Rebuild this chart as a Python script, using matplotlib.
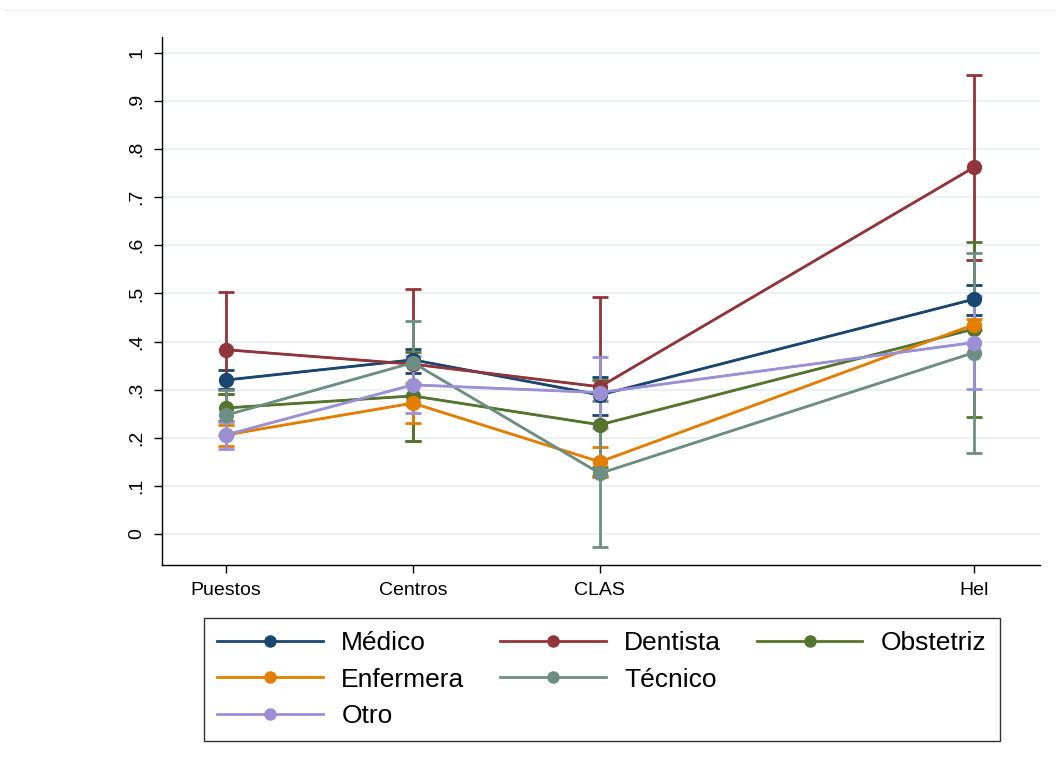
import matplotlib
matplotlib.use('Agg')
import matplotlib.pyplot as plt
from matplotlib.lines import Line2D

plt.rcParams['font.family'] = ['Liberation Sans', 'DejaVu Sans']

# categorias del eje x (Hel va separado, en la posicion 5)
categorias = ['Puestos', 'Centros', 'CLAS', 'Hel']
posiciones = [1, 2, 3, 5]

grupos = ['Médico', 'Dentista', 'Obstetriz', 'Enfermera', 'Técnico', 'Otro']
colores = ['#1a476f', '#90353b', '#55752f', '#e37e00', '#6e8e84', '#9b8fd6']

# proporciones estimadas y sus intervalos de confianza
medico = [0.320, 0.362, 0.289, 0.488]
medico_lo = [0.301, 0.334, 0.247, 0.455]
medico_hi = [0.341, 0.385, 0.327, 0.517]

dentista = [0.383, 0.353, 0.306, 0.762]
dentista_lo = [0.290, 0.194, 0.120, 0.570]
dentista_hi = [0.504, 0.509, 0.492, 0.954]

obstetriz = [0.262, 0.287, 0.227, 0.426]
obstetriz_lo = [0.235, 0.194, 0.140, 0.243]
obstetriz_hi = [0.290, 0.379, 0.320, 0.606]

enfermera = [0.206, 0.272, 0.150, 0.435]
enfermera_lo = [0.182, 0.231, 0.118, 0.425]
enfermera_hi = [0.227, 0.313, 0.180, 0.446]

tecnico = [0.247, 0.356, 0.126, 0.377]
tecnico_lo = [0.205, 0.269, -0.026, 0.168]
tecnico_hi = [0.299, 0.443, 0.277, 0.584]

otro = [0.206, 0.310, 0.294, 0.398]
otro_lo = [0.177, 0.251, 0.220, 0.301]
otro_hi = [0.233, 0.369, 0.367, 0.495]

valores = [medico, dentista, obstetriz, enfermera, tecnico, otro]
inferior = [medico_lo, dentista_lo, obstetriz_lo, enfermera_lo, tecnico_lo, otro_lo]
superior = [medico_hi, dentista_hi, obstetriz_hi, enfermera_hi, tecnico_hi, otro_hi]

y_ticks = [0, 0.1, 0.2, 0.3, 0.4, 0.5, 0.6, 0.7, 0.8, 0.9, 1]
y_labels = ['0', '.1', '.2', '.3', '.4', '.5', '.6', '.7', '.8', '.9', '1']

fig = plt.figure(figsize=(10.6, 7.71), dpi=100)
ax = fig.add_axes([0.1528, 0.2672, 0.8282, 0.6848])

handles = {}
for nombre, color, v, lo, hi in zip(grupos, colores, valores, inferior, superior):
    err = [[a - b for a, b in zip(v, lo)], [b - a for a, b in zip(v, hi)]]
    ax.errorbar(posiciones, v, yerr=err, color=color, ecolor=color, elinewidth=2,
                capsize=6, capthick=2, zorder=3)
    h, = ax.plot(posiciones, v, '-o', color=color, lw=2, markersize=10, zorder=4)
    handles[nombre] = h

ax.set_xlim(0.658, 5.353)
ax.set_ylim(-0.0644, 1.033)
ax.set_xticks(posiciones)
ax.set_xticklabels(categorias, fontsize=14)
ax.set_yticks(y_ticks)
ax.set_yticklabels(y_labels, fontsize=14, rotation=90, va='center')
ax.tick_params(axis='both', direction='out', length=6, width=1, color='black', pad=6)
ax.grid(axis='y', color='#eaf2f3', lw=1.6, zorder=0)
ax.set_axisbelow(True)
for lado in ['top', 'right']:
    ax.spines[lado].set_visible(False)
for lado in ['left', 'bottom']:
    ax.spines[lado].set_linewidth(1.0)

# linea tenue arriba (borde de la region del grafico)
fig.add_artist(Line2D([0.005, 0.995], [1 - 10 / 771, 1 - 10 / 771], color='#eeeeee', lw=1))

# leyenda llenada por filas: 3 columnas
vacio = Line2D([], [], alpha=0)
orden = [handles['Médico'], handles['Enfermera'], handles['Otro'],
         handles['Dentista'], handles['Técnico'], vacio,
         handles['Obstetriz'], vacio, vacio]
etiquetas = ['Médico', 'Enfermera', 'Otro', 'Dentista', 'Técnico', '', 'Obstetriz', '', '']
leg = fig.legend(orden, etiquetas, ncol=3, fontsize=19, loc='center',
                 bbox_to_anchor=(0.1953, 0.0376, 0.745, 0.162),
                 frameon=True, fancybox=False, edgecolor='black',
                 handlelength=4, handletextpad=0.7, columnspacing=1.35,
                 labelspacing=0.48, borderpad=0.5, markerscale=0.8)
leg.get_frame().set_linewidth(1.0)

fig.savefig('out.png', dpi=100)
